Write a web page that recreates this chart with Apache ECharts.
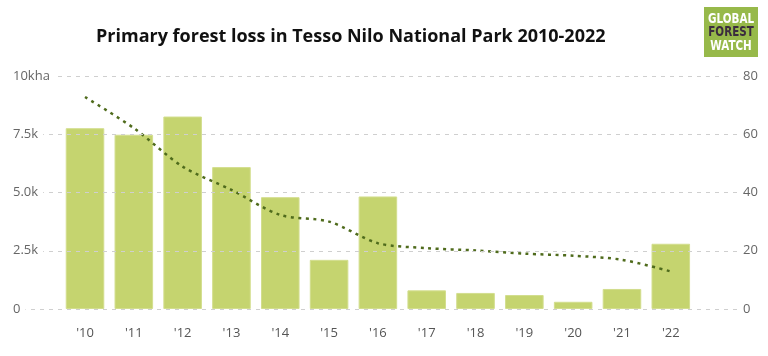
<!DOCTYPE html>
<html><head><meta charset="utf-8">
<script src="https://cdn.jsdelivr.net/npm/echarts@6/dist/echarts.min.js"></script>
<style>html,body{margin:0;padding:0;background:#fff}#c{width:768px;height:356px}</style>
</head><body><div id="c"></div>
<script>
const categories = ["'10","'11","'12","'13","'14","'15","'16","'17","'18","'19","'20","'21","'22"];
const lossHa = [7760, 7480, 8260, 6090, 4800, 2110, 4830, 800, 690, 600, 310, 860, 2800];
const trendValues = [72.8, 62.1, 48.9, 40.9, 32.3, 30.0, 22.6, 20.9, 20.1, 19.0, 18.3, 16.9, 12.9];
const leftTicks = {0:'0', 2500:'2.5k', 5000:'5.0k', 7500:'7.5k', 10000:'10kha'};

const chart = echarts.init(document.getElementById('c'), null, {renderer:'canvas'});
const font = "'Open Sans', 'Noto Sans', sans-serif";
const logoFont = "bold 14px 'DejaVu Sans', sans-serif";
function logoText(txt, y, fill) {
  return {type:'text', x:731, y:y, scaleX:0.74, originX:0, originY:0,
    style:{text:txt, fill:fill, font:logoFont, align:'center', verticalAlign:'middle'}};
}
chart.setOption({
  animation: false,
  title: {
    text: 'Primary forest loss in Tesso Nilo National Park 2010-2022',
    left: 91, top: 23,
    textStyle: {fontFamily: font, fontSize: 18, fontWeight: 'bold', color: '#111'}
  },
  graphic: [
    {type:'rect', shape:{x:704, y:7, width:54, height:50}, style:{fill:'#97b94a'}},
    logoText('GLOBAL', 19, '#fff'),
    logoText('FOREST', 32.5, '#3b2c3e'),
    logoText('WATCH', 46.5, '#fff')
  ],
  grid: [
    {left: 13, right: 26, top: 76, bottom: 47},
    {left: 60.6, right: 72.8, top: 76, bottom: 47}
  ],
  xAxis: [
    {gridIndex:0, type:'value', min:0, max:1, show:false},
    {gridIndex:1, type:'category', data: categories,
     axisLine:{show:false}, axisTick:{show:false},
     axisLabel:{margin:18, color:'#555', fontSize:13, fontFamily:font}}
  ],
  yAxis: [
    {gridIndex:0, type:'value', min:0, max:10000, interval:2500, position:'left',
     axisLine:{show:false}, axisTick:{show:false},
     splitLine:{show:true, lineStyle:{color:'#cfcfcf', type:[4,5], width:1}},
     axisLabel:{inside:true, margin:0, color:'#666', fontSize:13, fontFamily:font,
       backgroundColor:'#fff', padding:[0,5,0,0], verticalAlign:'middle',
       formatter: v => leftTicks[v]}, z: 5},
    {gridIndex:0, type:'value', min:0, max:80, interval:20, position:'right',
     axisLine:{show:false}, axisTick:{show:false}, splitLine:{show:false},
     axisLabel:{margin:1, color:'#666', fontSize:13, fontFamily:font}},
    {gridIndex:1, type:'value', min:0, max:10000, show:false, splitLine:{show:false}},
    {gridIndex:1, type:'value', min:0, max:80, show:false, splitLine:{show:false}}
  ],
  series: [
    {type:'bar', xAxisIndex:1, yAxisIndex:2, data: lossHa, barWidth:'79%',
     itemStyle:{color:'#c5d46f', borderColor:'#d3de8e', borderWidth:1}, z:2},
    {type:'line', xAxisIndex:1, yAxisIndex:3, data: trendValues, smooth:0.3,
     symbol:'none', lineStyle:{color:'#4f6b1c', width:2.5, type:[3,4.5]}, z:3}
  ]
});
</script></body></html>
